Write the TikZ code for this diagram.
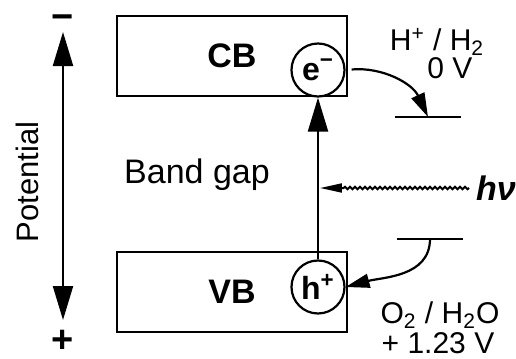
\documentclass[tikz,border=0pt]{standalone}
\usepackage{fontspec}
\setmainfont{Liberation Sans}
\usepackage{tikz}
\usetikzlibrary{arrows.meta, calc, decorations.pathmorphing}

\begin{document}
\begin{tikzpicture}[
    x=0.5pt, y=-0.5pt,
    band/.style={rectangle, draw, line width=1.2pt, minimum width=115pt,
                 minimum height=40pt, font=\fontsize{17}{20}\selectfont\bfseries},
    carrier/.style={circle, draw, line width=1.1pt, minimum size=26.5pt,
                 inner sep=0pt, fill=white, font=\fontsize{16}{18}\selectfont\bfseries},
    gaptext/.style={font=\fontsize{17}{20}\selectfont},
    redox/.style={font=\fontsize{15}{18}\selectfont, inner sep=1pt},
    sign/.style={font=\fontsize{19}{20}\selectfont\bfseries, inner sep=0pt},
    arrow/.style={line width=1.1pt},
    transfer/.style={-{Triangle[length=12pt, width=7pt]}, line width=1.1pt},
    redoxline/.style={line width=1.1pt},
    wavy/.style={-{Triangle[length=11pt, width=4.5pt]}, line width=1pt, decorate,
                 decoration={snake, amplitude=0.6pt, segment length=2.5pt,
                 post length=11pt}}
]
\useasboundingbox (0,0) rectangle (516,359);

% Potential axis
\node[sign] at (63,22) (minus) {−};
\node[sign] at (63,341) (plus) {+};
\coordinate (ptop) at (63,32);
\coordinate (pbot) at (63,320);
\draw[arrow, {Triangle[length=17pt, width=10pt]}-{Triangle[length=17pt, width=10pt]}] (ptop) -- (pbot);
\node[gaptext, rotate=90, font=\fontsize{15.5}{18}\selectfont] at (27,182) (pot) {Potential};

% Bands
\node[band] at (232,56) (cb) {CB};
\node[band] at (232,292) (vb) {VB};
\node[carrier] at (318,70) (elec) {e\textsuperscript{−}};
\node[carrier] at (318,287) (hole) {h\textsuperscript{+}};
\node[gaptext] at (197,175) (gap) {Band gap};

% Excitation
\draw[arrow, -{Triangle[length=17pt, width=10pt]}] (hole) -- (elec);
\node[gaptext] at (496,188) (nu) {\textbf{\textit{hν}}};
\draw[wavy] (nu.west) -- ([xshift=1pt]elec.south |- nu.west);

% Redox levels
\coordinate (hlev) at (428,117);
\coordinate (olev) at (430,239);
\draw[redoxline] (hlev) ++(-33,0) -- ++(66,0);
\draw[redoxline] (olev) ++(-33,0) -- ++(66,0);
\node[redox] at (437,42) (hpair) {H\textsuperscript{+} / H\textsubscript{2}};
\node[redox] at (450,68) (hvolt) {0 V};
\node[redox] at (440,315) (opair) {O\textsubscript{2} / H\textsubscript{2}O};
\node[redox] at (438,343) (ovolt) {+ 1.23 V};

% Charge transfer
\draw[transfer, shorten <=3pt] (elec.east) to[out=5, in=115] (hlev);
\draw[transfer] (olev) to[out=-90, in=15] (hole.east);

\end{tikzpicture}
\end{document}
